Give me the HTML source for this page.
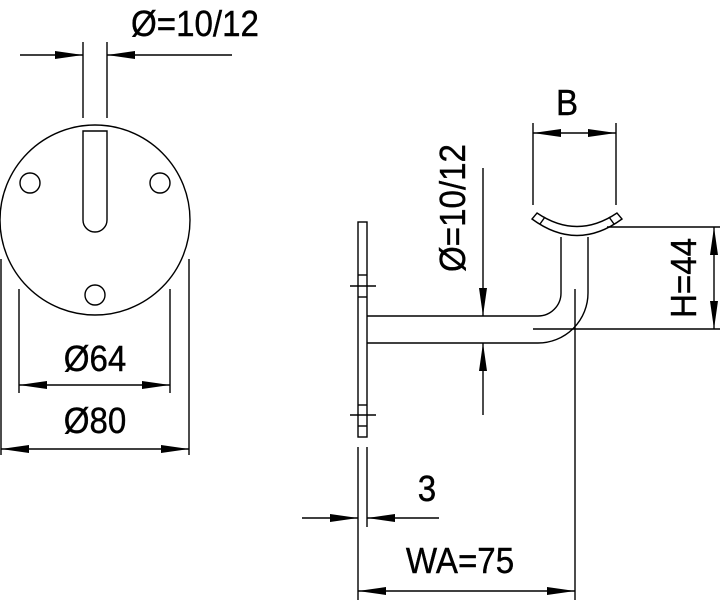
<!DOCTYPE html>
<html><head><meta charset="utf-8"><style>
html,body{margin:0;padding:0;background:#fff}
svg{display:block}
text{font-family:"Liberation Sans",sans-serif;fill:#000;stroke:#000;stroke-width:0.4}
</style></head><body>
<svg width="724" height="600" viewBox="0 0 724 600" xmlns="http://www.w3.org/2000/svg">
<defs>
<marker id="a" viewBox="0 0 28 8" refX="28" refY="4" markerWidth="28" markerHeight="8" markerUnits="userSpaceOnUse" orient="auto-start-reverse"><path d="M0,0 L28,4 L0,8 Z" fill="#000"/></marker>
</defs>
<g stroke="#000" stroke-width="1.4" fill="none">
<circle cx="95" cy="220" r="95"/>
<path d="M83,131 H107 V220 A12,12 0 0 1 83,220 Z"/>
<circle cx="30" cy="183" r="10"/>
<circle cx="160" cy="183" r="10"/>
<circle cx="95" cy="295" r="10"/>
<line x1="83" y1="42" x2="83" y2="118"/>
<line x1="107" y1="42" x2="107" y2="118"/>
<line x1="20" y1="55" x2="83" y2="55" marker-end="url(#a)"/>
<line x1="232" y1="55" x2="107" y2="55" marker-end="url(#a)"/>
<line x1="19" y1="289" x2="19" y2="393"/>
<line x1="170" y1="289" x2="170" y2="393"/>
<line x1="19" y1="385" x2="170" y2="385" marker-start="url(#a)" marker-end="url(#a)"/>
<line x1="1" y1="259" x2="1" y2="455"/>
<line x1="189" y1="259" x2="189" y2="455"/>
<line x1="1" y1="449" x2="189" y2="449" marker-start="url(#a)" marker-end="url(#a)"/>

<rect x="358" y="222" width="9" height="215"/>
<line x1="358" y1="275" x2="367" y2="275"/>
<line x1="358" y1="297" x2="367" y2="297"/>
<line x1="350" y1="286" x2="376" y2="286"/>
<line x1="358" y1="405" x2="367" y2="405"/>
<line x1="358" y1="426" x2="367" y2="426"/>
<line x1="350" y1="415" x2="376" y2="415"/>
<path d="M367,316 H538 A23,23 0 0 0 561,293 V237"/>
<path d="M367,343 H538 A50,50 0 0 0 588,293 V237"/>
<path d="M532,219 Q577,252 622,219 L617,213 Q577,240 537,213 Z"/>
<line x1="540" y1="224" x2="545" y2="217"/>
<line x1="614" y1="224" x2="609" y2="217"/>
<line x1="575" y1="289" x2="575" y2="600"/>
<line x1="533" y1="329" x2="720" y2="329"/>
<line x1="607" y1="227" x2="720" y2="227"/>
<line x1="714" y1="227" x2="714" y2="329" marker-start="url(#a)" marker-end="url(#a)"/>
<line x1="533" y1="123" x2="533" y2="205"/>
<line x1="616" y1="123" x2="616" y2="205"/>
<line x1="533" y1="133" x2="616" y2="133" marker-start="url(#a)" marker-end="url(#a)"/>
<line x1="483" y1="168" x2="483" y2="316" marker-end="url(#a)"/>
<line x1="483" y1="415" x2="483" y2="343" marker-end="url(#a)"/>
<line x1="358" y1="447" x2="358" y2="600"/>
<line x1="367" y1="447" x2="367" y2="527"/>
<line x1="302" y1="518" x2="358" y2="518" marker-end="url(#a)"/>
<line x1="439" y1="518" x2="367" y2="518" marker-end="url(#a)"/>
<line x1="358" y1="591" x2="575" y2="591" marker-start="url(#a)" marker-end="url(#a)"/>
</g>
<g font-size="36">
<text transform="translate(131,36) scale(0.92,1.0)">Ø=10/12</text>
<text transform="translate(95,371) scale(0.92,1.0)" text-anchor="middle">Ø64</text>
<text transform="translate(95,433) scale(0.92,1.0)" text-anchor="middle">Ø80</text>
<text transform="translate(567,115) scale(0.92,1.0)" text-anchor="middle">B</text>
<text transform="translate(427,501) scale(0.92,1.0)" text-anchor="middle">3</text>
<text transform="translate(460,573) scale(0.92,1.0)" text-anchor="middle">WA=75</text>
<text transform="translate(465,208) rotate(-90) scale(0.92,1.0)" text-anchor="middle">Ø=10/12</text>
<text transform="translate(696,278) rotate(-90) scale(0.92,1.0)" text-anchor="middle">H=44</text>
</g>
</svg>
</body></html>
